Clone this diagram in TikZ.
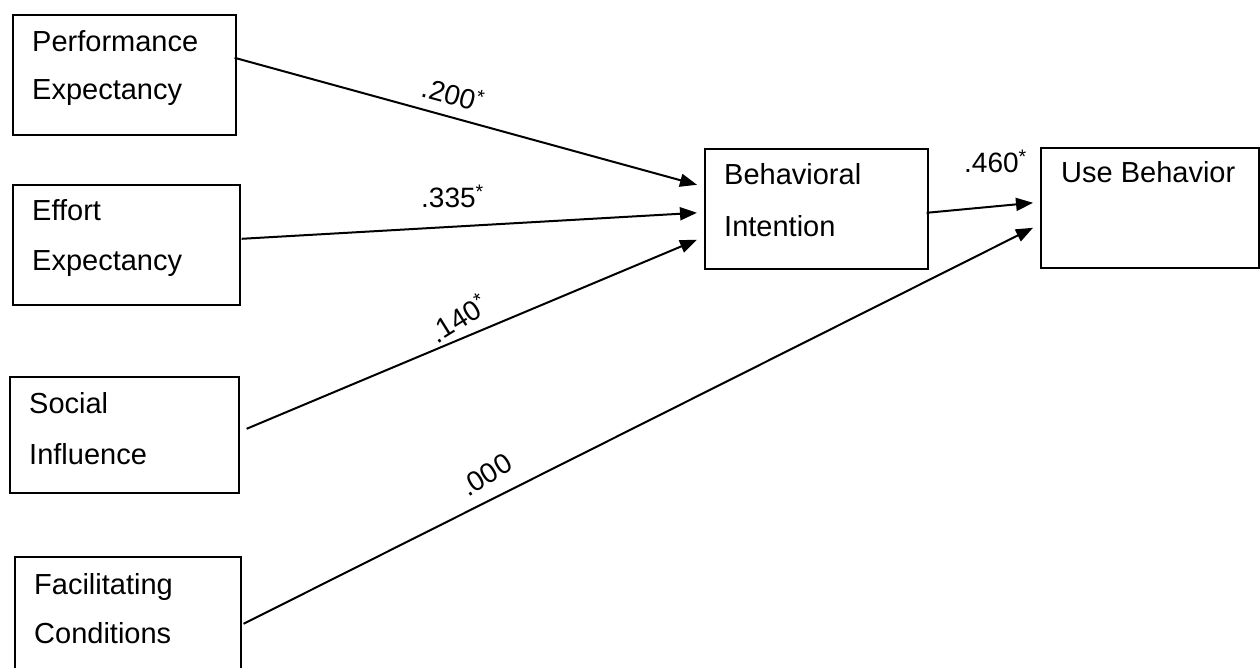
\documentclass[tikz,border=0pt]{standalone}
\usepackage{fontspec}
\setmainfont{Liberation Sans}
\usetikzlibrary{arrows.meta}
\newcommand\sigstar{\textsuperscript{*}}
\begin{document}
\begin{tikzpicture}[x=1pt,y=-1pt,
  box/.style={draw, line width=1.6pt, inner sep=0pt, anchor=north west},
  lbl/.style={anchor=base west, inner sep=0pt, font=\fontsize{29}{34}\selectfont},
  coef/.style={inner sep=0pt, font=\fontsize{28}{32}\selectfont},
  link/.style={line width=2pt, -{Triangle[length=17pt,width=13pt]}}]
\useasboundingbox (0,0) rectangle (1260,668);
\clip (0,0) rectangle (1260,668);

% constructs
\node[box, minimum width=223pt, minimum height=120pt] (pe) at (12,14) {};
\node[box, minimum width=227pt, minimum height=120pt] (ee) at (12,184) {};
\node[box, minimum width=229pt, minimum height=116pt] (si) at (9,376) {};
\node[box, minimum width=226pt, minimum height=120pt] (fc) at (14,556) {};
\node[box, minimum width=223pt, minimum height=120pt] (bi) at (704,148) {};
\node[box, minimum width=218pt, minimum height=120pt] (ub) at (1040,147) {};

% construct names
\node[lbl] (pe1) at (32,52) {Performance};
\node[lbl] (pe2) at (32,100) {Expectancy};
\node[lbl] (ee1) at (32,221) {Effort};
\node[lbl] (ee2) at (32,270) {Expectancy};
\node[lbl] (si1) at (29,413) {Social};
\node[lbl] (si2) at (29,464) {Influence};
\node[lbl] (fc1) at (34,594) {Facilitating};
\node[lbl] (fc2) at (34,643) {Conditions};
\node[lbl] (bi1) at (724,185) {Behavioral};
\node[lbl] (bi2) at (724,237) {Intention};
\node[lbl] (ub1) at (1061,183) {Use Behavior};

% paths
\draw[link] ([xshift=-2pt,yshift=17pt]pe.east) -- ([xshift=-7pt,yshift=24pt]bi.west);
\draw[link] ([xshift=1pt,yshift=6pt]ee.east) -- ([xshift=-7pt,yshift=-4pt]bi.west);
\draw[link] ([xshift=7pt,yshift=6pt]si.east) -- ([xshift=-7pt,yshift=-31pt]bi.west);
\draw[link] ([xshift=-2pt,yshift=-4pt]bi.east) -- ([xshift=-7pt,yshift=5pt]ub.west);
\draw[link] ([xshift=2pt,yshift=-7pt]fc.east) -- ([xshift=-7pt,yshift=-20pt]ub.west);

% path coefficients
\node[coef, rotate=-15] (c1) at (453,94) {.200\sigstar};
\node[coef, anchor=base west] (c2) at (421,208) {.335\sigstar};
\node[coef, rotate=32] (c3) at (458,318) {.140\sigstar};
\node[coef, rotate=32] (c4) at (486,475) {.000};
\node[coef, anchor=base west] (c5) at (964,173) {.460\sigstar};
\end{tikzpicture}
\end{document}
